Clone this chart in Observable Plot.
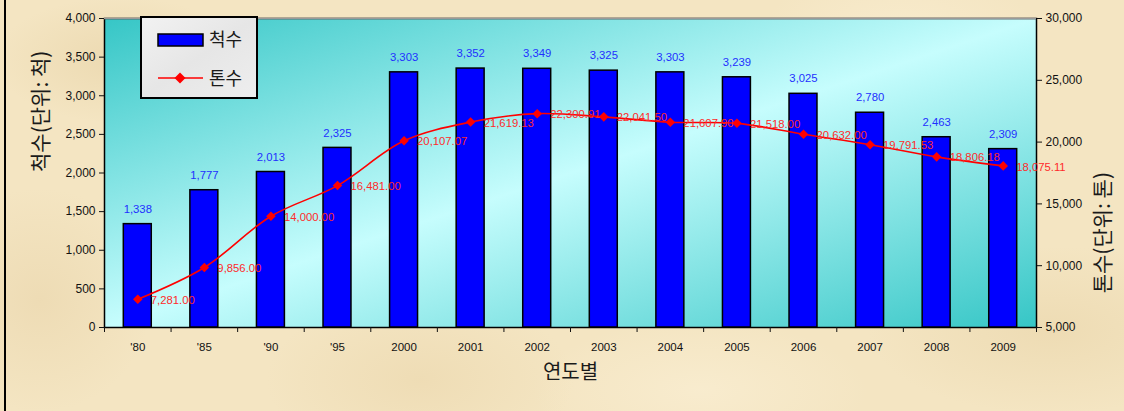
<!DOCTYPE html>
<html>
<head>
<meta charset="utf-8">
<script src="https://cdn.jsdelivr.net/npm/d3@7"></script>
<script src="https://cdn.jsdelivr.net/npm/@observablehq/plot@0.6"></script>
<style>
  html, body { margin: 0; padding: 0; }
  body {
    width: 1124px; height: 411px; overflow: hidden;
    background-color: #f4e5c2;
    background-image:
      radial-gradient(ellipse 180px 90px at 120px 60px, rgba(228,206,160,0.5), rgba(228,206,160,0) 70%),
      radial-gradient(ellipse 220px 120px at 420px 380px, rgba(232,210,165,0.45), rgba(232,210,165,0) 70%),
      radial-gradient(ellipse 200px 110px at 900px 40px, rgba(250,238,210,0.7), rgba(250,238,210,0) 70%),
      radial-gradient(ellipse 260px 120px at 1050px 330px, rgba(230,208,162,0.45), rgba(230,208,162,0) 70%),
      radial-gradient(ellipse 240px 100px at 700px 390px, rgba(251,240,214,0.6), rgba(251,240,214,0) 70%),
      radial-gradient(ellipse 160px 160px at 40px 300px, rgba(230,208,164,0.45), rgba(230,208,164,0) 70%);
  }
  #wrap { position: relative; width: 1124px; height: 411px; }
  #edge { position: absolute; left: 4px; top: 0; width: 2px; height: 411px; background: #000; }
  #chart { position: absolute; left: 0; top: 0; }
</style>
</head>
<body>
<div id="wrap">
  <div id="edge"></div>
  <div id="chart"></div>
</div>
<script>
// ---- data ----
const years = ["'80", "'85", "'90", "'95", "2000", "2001", "2002", "2003", "2004", "2005", "2006", "2007", "2008", "2009"];
const vessels = [1338, 1777, 2013, 2325, 3303, 3352, 3349, 3325, 3303, 3239, 3025, 2780, 2463, 2309];
const tonnage = [7281.00, 9856.00, 14000.00, 16481.00, 20107.07, 21619.13, 22300.91, 22041.50, 21607.90, 21518.00, 20632.00, 19791.53, 18806.18, 18075.11];
const leftTicks = [0, 500, 1000, 1500, 2000, 2500, 3000, 3500, 4000];
const rightTicks = [5000, 10000, 15000, 20000, 25000, 30000];
const seriesNames = ["척수", "톤수"];
const leftTitle = "척수(단위: 척)";
const rightTitle = "톤수(단위: 톤)";
const xTitle = "연도별";

// ---- layout ----
const W = 1124, H = 411;
const mL = 104, mR = 88, mT = 18, mB = 84;
const step = (W - mL - mR) / years.length;
const leftMax = leftTicks[leftTicks.length - 1];
const tMin = rightTicks[0], tMax = rightTicks[rightTicks.length - 1];
const toLeft = t => (t - tMin) / (tMax - tMin) * leftMax;
const fromLeft = v => tMin + v / leftMax * (tMax - tMin);

const data = years.map((year, i) => ({
  year, vessels: vessels[i], tons: tonnage[i], tonsY: toLeft(tonnage[i])
}));

const FONT = "'Liberation Sans', Arial, 'Noto Sans CJK KR', sans-serif";
const KFONT = "'Noto Sans CJK KR', 'Liberation Sans', sans-serif";
const fmt0 = d3.format(",");
const fmt2 = d3.format(",.2f");

function defs() {
  const d = d3.create("svg:defs");
  const g = d.append("linearGradient").attr("id", "plotbg")
    .attr("x1", 0).attr("y1", 0).attr("x2", 1).attr("y2", 1);
  g.append("stop").attr("offset", "0%").attr("stop-color", "#36c6c6");
  g.append("stop").attr("offset", "50%").attr("stop-color", "#c6fdfd");
  g.append("stop").attr("offset", "100%").attr("stop-color", "#36c6c6");
  const lg = d.append("linearGradient").attr("id", "legbg")
    .attr("x1", 0).attr("y1", 0).attr("x2", 1).attr("y2", 1);
  lg.append("stop").attr("offset", "0%").attr("stop-color", "#f2f2f2");
  lg.append("stop").attr("offset", "50%").attr("stop-color", "#e6e6e6");
  lg.append("stop").attr("offset", "100%").attr("stop-color", "#eeeeee");
  return d.node();
}

function legend() {
  const g = d3.create("svg:g").attr("font-family", KFONT).attr("text-anchor", "start");
  g.append("rect").attr("x", 141).attr("y", 17).attr("width", 116).attr("height", 81)
    .attr("fill", "url(#legbg)").attr("stroke", "#000").attr("stroke-width", 2);
  g.append("rect").attr("x", 158).attr("y", 34).attr("width", 45).attr("height", 12)
    .attr("fill", "#0000ff").attr("stroke", "#000").attr("stroke-width", 1.5);
  g.append("text").attr("x", 209).attr("y", 40).attr("dy", "0.35em")
    .attr("font-size", 18).attr("fill", "#1a1a1a").text(seriesNames[0]);
  g.append("line").attr("x1", 158).attr("x2", 203).attr("y1", 78).attr("y2", 78)
    .attr("stroke", "#ff0000").attr("stroke-width", 1.5);
  g.append("path").attr("d", "M180,72.5L185.5,78L180,83.5L174.5,78Z").attr("fill", "#ff0000");
  g.append("text").attr("x", 209).attr("y", 79).attr("dy", "0.35em")
    .attr("font-size", 18).attr("fill", "#1a1a1a").text(seriesNames[1]);
  return g.node();
}

const chart = Plot.plot({
  width: W, height: H,
  marginLeft: mL, marginRight: mR, marginTop: mT, marginBottom: mB,
  style: { background: "transparent", fontFamily: FONT, color: "#111" },
  x: { domain: years, paddingInner: 0.58, paddingOuter: 0.29, round: false, label: null },
  y: { domain: [0, leftMax], label: null },
  marks: [
    defs,
    Plot.frame({ fill: "url(#plotbg)", stroke: "#000", strokeWidth: 1.5 }),
    Plot.ruleY([leftMax], { stroke: "#9a9a9a", strokeWidth: 1.5 }),
    Plot.barY(data, { x: "year", y: "vessels", fill: "#0000ff", stroke: "#000", strokeWidth: 1.5 }),
    Plot.text(data, { x: "year", y: "vessels", text: d => fmt0(d.vessels), dy: -15, fill: "#1f2fff", fontSize: 11.3 }),
    Plot.line(data, { x: "year", y: "tonsY", stroke: "#ff0000", strokeWidth: 1.6, curve: "catmull-rom" }),
    Plot.dot(data, { x: "year", y: "tonsY", symbol: "diamond2", r: 4.3, fill: "#ff0000", stroke: "none" }),
    Plot.text(data, { x: "year", y: "tonsY", text: d => fmt2(d.tons), dx: 13, dy: 1, textAnchor: "start", fill: "#ff2a2a", fontSize: 11.3 }),
    Plot.axisY(leftTicks, { anchor: "left", tickSize: 5, tickPadding: 4, tickFormat: fmt0, fontSize: 12, label: null }),
    Plot.axisY(rightTicks.map(toLeft), { anchor: "right", tickSize: 5, tickPadding: 4, tickFormat: v => fmt0(Math.round(fromLeft(v))), fontSize: 12, label: null }),
    Plot.axisX({ tickSize: 0, tickPadding: 15, fontSize: 11.5, label: null }),
    Plot.axisX({ tickSize: 5, tickFormat: () => "", dx: -step / 2, label: null }),
    Plot.axisX([years[years.length - 1]], { tickSize: 5, tickFormat: () => "", dx: step / 2, label: null }),
    Plot.text([leftTitle], { frameAnchor: "left", dx: -63, dy: -1, rotate: -90, fontSize: 21, fontFamily: KFONT, fill: "#1a1a1a", style: "letter-spacing: 1px" }),
    Plot.text([rightTitle], { frameAnchor: "right", dx: 67, dy: -1, rotate: -90, fontSize: 21, fontFamily: KFONT, fill: "#1a1a1a", style: "letter-spacing: 1px" }),
    Plot.text([xTitle], { frameAnchor: "bottom", dy: 51, fontSize: 20, fontFamily: KFONT, fill: "#1a1a1a", style: "letter-spacing: 1px" }),
    legend
  ]
});
document.getElementById("chart").appendChild(chart);
</script>
</body>
</html>
